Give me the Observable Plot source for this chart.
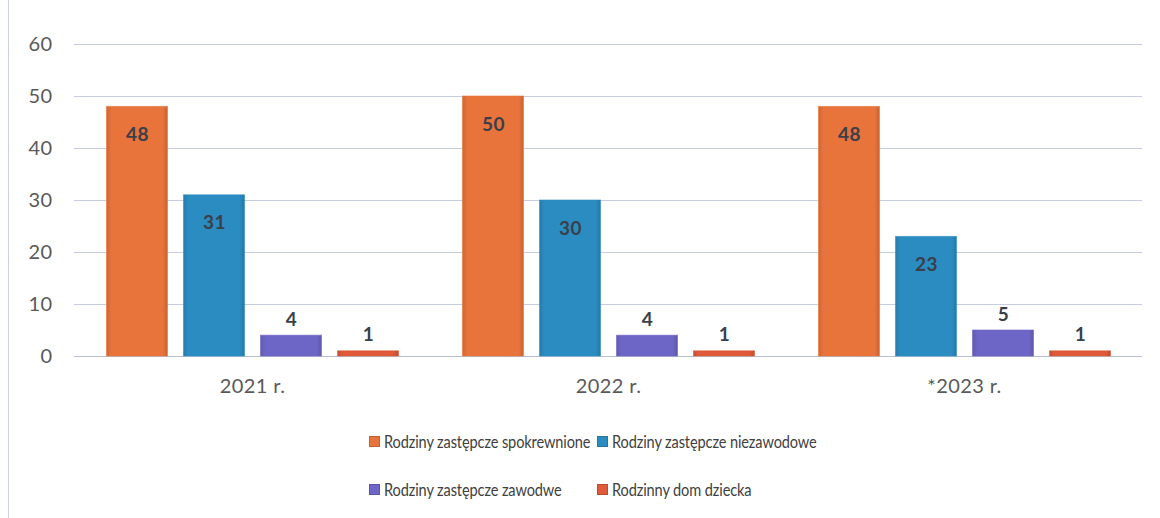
<!DOCTYPE html>
<html>
<head>
<meta charset="utf-8">
<script src="https://cdn.jsdelivr.net/npm/d3@7"></script>
<script src="https://cdn.jsdelivr.net/npm/@observablehq/plot@0.6"></script>
<style>
  html, body { margin: 0; padding: 0; background: #fff; }
  #wrap { position: relative; width: 1160px; height: 518px; font-family: Lato, "Open Sans", sans-serif; }
  #edge { position: absolute; left: 8px; top: 0; width: 1px; height: 518px; background: #c9d0e0; }
  #legend { position: absolute; left: 369px; top: 430px; display: grid; grid-template-columns: 228px 340px; row-gap: 26px; font-size: 18px; letter-spacing: -0.15px; color: #404040; }
  .item { display: flex; align-items: center; white-space: nowrap; height: 22px; overflow: visible; }
  .sw { flex: 0 0 auto; width: 11px; height: 11px; margin-right: 4px; display: inline-block; box-sizing: border-box; }
  .lbl { display: inline-block; transform: scaleX(0.81); transform-origin: 0 50%; }
</style>
</head>
<body>
<div id="wrap"><div id="edge"></div><div id="chart"></div><div id="legend"></div></div>
<script>
const years = ["2021 r.", "2022 r.", "*2023 r."];
const seriesNames = ["Rodziny zastępcze spokrewnione", "Rodziny zastępcze niezawodowe", "Rodziny zastępcze zawodwe", "Rodzinny dom dziecka"];
const spokrewnione = [48, 50, 48];
const niezawodowe = [31, 30, 23];
const zawodowe = [4, 4, 5];
const domDziecka = [1, 1, 1];
const colors = ["#e8743b", "#2b8cc2", "#6e66c6", "#de5a38"];
const yTicks = [0, 10, 20, 30, 40, 50, 60];

const seriesValues = [spokrewnione, niezawodowe, zawodowe, domDziecka];
const data = [];
years.forEach((yr, i) => seriesValues.forEach((vals, s) => data.push({year: yr, series: seriesNames[s], value: vals[i]})));

const gradIds = colors.map((c, i) => "g" + i);
const fillFor = d => "url(#" + gradIds[seriesNames.indexOf(d.series)] + ")";

const chart = Plot.plot({
  width: 1160,
  height: 410,
  marginTop: 44,
  marginBottom: 54,
  marginLeft: 73,
  marginRight: 17,
  style: {fontFamily: "Lato, 'Open Sans', sans-serif", fontSize: "20px", color: "#595959", background: "transparent", letterSpacing: "0.4px"},
  fx: {domain: years, padding: 0, label: null, tickSize: 0, tickPadding: 22},
  x: {domain: seriesNames, paddingInner: 0.195, paddingOuter: 0.4, axis: null},
  y: {domain: [0, 60], ticks: yTicks, label: null, tickSize: 0, tickPadding: 22},
  marks: [
    Plot.gridY(yTicks, {stroke: "#c5cde0", strokeOpacity: 1, strokeWidth: 1}),
    Plot.ruleY([0], {stroke: "#b8bfce"}),
    Plot.barY(data, {fx: "year", x: "series", y: "value", fill: fillFor, stroke: d => colors[seriesNames.indexOf(d.series)], strokeOpacity: 0.6, insetLeft: 0.5, insetRight: 0.5}),
    Plot.text(data.filter(d => d.value >= 10), {fx: "year", x: "series", y: "value", text: d => String(d.value), dy: 28, fill: "#3a3f4a", fontSize: 19, fontWeight: "bold"}),
    Plot.text(data.filter(d => d.value < 10), {fx: "year", x: "series", y: "value", text: d => String(d.value), dy: -16, fill: "#3a3f4a", fontSize: 19, fontWeight: "bold"})
  ]
});

// gradient definitions for a bevelled look
const ns = "http://www.w3.org/2000/svg";
const defs = document.createElementNS(ns, "defs");
colors.forEach((c, i) => {
  const g = document.createElementNS(ns, "linearGradient");
  g.setAttribute("id", gradIds[i]);
  g.setAttribute("x1", "0"); g.setAttribute("x2", "1"); g.setAttribute("y1", "0"); g.setAttribute("y2", "0");
  const base = d3.color(c);
  const stops = [[0, base.darker(0.35)], [0.08, base], [0.92, base], [1, base.darker(0.45)]];
  stops.forEach(([o, col]) => {
    const s = document.createElementNS(ns, "stop");
    s.setAttribute("offset", o);
    s.setAttribute("stop-color", col.formatHex());
    g.appendChild(s);
  });
  defs.appendChild(g);
});
chart.insertBefore(defs, chart.firstChild);
document.getElementById("chart").appendChild(chart);

const legend = document.getElementById("legend");
seriesNames.forEach((name, i) => {
  const it = document.createElement("div");
  it.className = "item";
  const sw = document.createElement("span");
  sw.className = "sw";
  sw.style.background = colors[i];
  sw.style.border = "1px solid " + d3.color(colors[i]).darker(0.5).formatHex();
  const t = document.createElement("span");
  t.className = "lbl";
  t.textContent = name;
  it.appendChild(sw); it.appendChild(t);
  legend.appendChild(it);
});
</script>
</body>
</html>
